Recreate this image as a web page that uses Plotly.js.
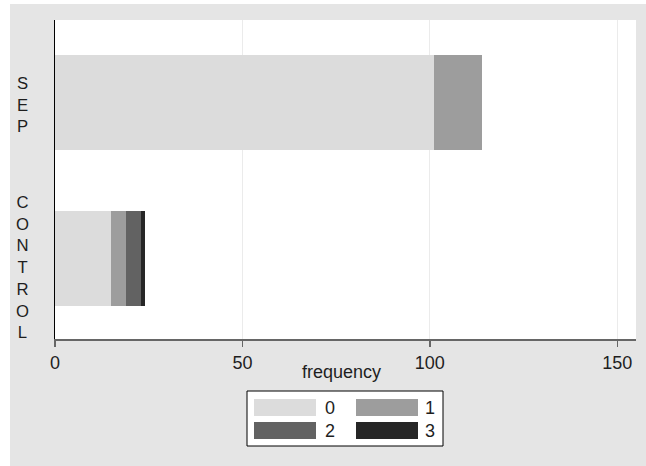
<!DOCTYPE html>
<html>
<head>
<meta charset="utf-8">
<script src="https://cdn.plot.ly/plotly-3.0.1.min.js"></script>
<style>
  html, body { margin: 0; padding: 0; background: #ffffff; width: 646px; height: 466px; overflow: hidden; }
  #chart { position: absolute; left: 10px; top: 4px; width: 636px; height: 462px; }
</style>
</head>
<body>
<div id="chart"></div>
<script>
// ---- data ----
var categories = ['SEP', 'CONTROL'];
var seriesNames = ['0', '1', '2', '3'];
var s0 = [101, 15];
var s1 = [13, 4];
var s2 = [0, 4];
var s3 = [0, 1];
var xTickVals = [0, 50, 100, 150];
var xTickText = ['0', '50', '100', '150'];
var xTitle = 'frequency';

// ---- styling ----
var seriesValues = [s0, s1, s2, s3];
var colors = ['#dcdcdc', '#9d9d9d', '#626262', '#262626'];
var FONT = 'Liberation Sans, Arial, Helvetica, sans-serif';
var TXT = '#1e1e1e';

var traces = seriesNames.map(function (name, i) {
  return {
    type: 'bar',
    orientation: 'h',
    name: name,
    y: categories,
    x: seriesValues[i],
    marker: { color: colors[i], line: { width: 0 } },
    showlegend: false,
    hoverinfo: 'skip'
  };
});

// plot area in page pixels: x 55..636, y 20..339
var PL = 55, PR = 636, PT = 20, PB = 339;
function px(x) { return (x - PL) / (PR - PL); }
function py(y) { return (PB - y) / (PB - PT); }

var shapes = [];
var annotations = [];

// vertical stacked category labels (one text per category, letters on separate lines)
var labelOffset = { 'SEP': 2.5, 'CONTROL': 8.5 };
categories.forEach(function (cat) {
  annotations.push({
    xref: 'paper', yref: 'y',
    x: px(22), y: cat,
    yshift: -labelOffset[cat],
    text: cat.split('').join('<br>'), showarrow: false,
    xanchor: 'center', yanchor: 'middle', align: 'center',
    font: { family: FONT, size: 16.7, color: TXT }
  });
});

// x axis title
annotations.push({
  xref: 'paper', yref: 'paper',
  x: px(341), y: py(372),
  text: xTitle, showarrow: false, xanchor: 'center', yanchor: 'middle',
  font: { family: FONT, size: 18, color: TXT }
});

// manual legend (wide swatches, 2 columns)
shapes.push({
  type: 'rect', xref: 'paper', yref: 'paper',
  x0: px(247), x1: px(443), y0: py(446), y1: py(391),
  fillcolor: '#ffffff', line: { color: '#000000', width: 1 }, layer: 'above'
});
var colSw = [[254, 316], [356, 418]];
var colLab = [330, 430];
var rowY = [[399, 416], [422, 439]];
seriesNames.forEach(function (name, i) {
  var r = Math.floor(i / 2), c = i % 2;
  shapes.push({
    type: 'rect', xref: 'paper', yref: 'paper',
    x0: px(colSw[c][0]), x1: px(colSw[c][1]),
    y0: py(rowY[r][1]), y1: py(rowY[r][0]),
    fillcolor: colors[i], line: { width: 0 }, layer: 'above'
  });
  annotations.push({
    xref: 'paper', yref: 'paper',
    x: px(colLab[c]), y: py((rowY[r][0] + rowY[r][1]) / 2),
    text: name, showarrow: false, xanchor: 'center', yanchor: 'middle',
    font: { family: FONT, size: 18, color: TXT }
  });
});

var layout = {
  width: 636, height: 462,
  margin: { l: 45, r: 10, t: 16, b: 127, pad: 0 },
  paper_bgcolor: '#e5e5e5',
  plot_bgcolor: '#ffffff',
  barmode: 'stack',
  bargap: 0.391,
  showlegend: false,
  font: { family: FONT, size: 18, color: TXT },
  xaxis: {
    range: [0, 155],
    tickvals: xTickVals, ticktext: xTickText,
    ticks: 'outside', ticklen: 6, tickwidth: 1.5, tickcolor: '#666666',
    showline: true, linecolor: '#666666', linewidth: 2,
    showgrid: true, gridcolor: '#ebebeb', gridwidth: 1,
    zeroline: false,
    tickfont: { family: FONT, size: 18, color: TXT }
  },
  yaxis: {
    type: 'category',
    categoryorder: 'array', categoryarray: ['CONTROL', 'SEP'],
    range: [-0.516, 1.529],
    showline: true, linecolor: '#000000', linewidth: 1.5,
    showticklabels: false, ticks: '',
    showgrid: false, zeroline: false
  },
  shapes: shapes,
  annotations: annotations
};

Plotly.newPlot('chart', traces, layout, { displayModeBar: false, staticPlot: true });
</script>
</body>
</html>
